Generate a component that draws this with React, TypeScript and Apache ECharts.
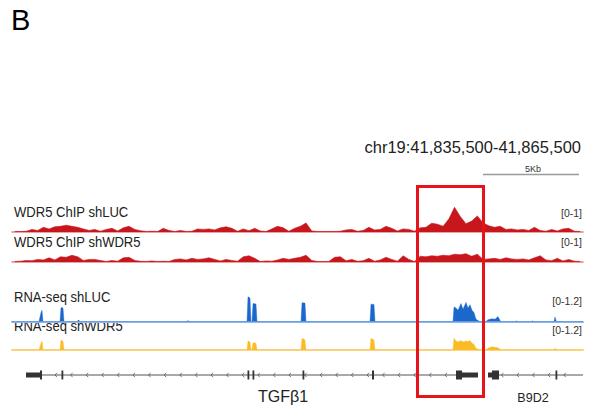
import React, { useEffect, useRef } from "react";
import * as echarts from "echarts";

// ---------------- data ----------------
const PANEL_LETTER = "B";
const REGION_LABEL = "chr19:41,835,500-41,865,500";
const SCALE_LABEL = "5Kb";
const REGION_LENGTH = 30000; // bp shown
const BIN_SIZE = 300; // bp per ChIP coverage bin

const trackNames = ["WDR5 ChIP shLUC", "WDR5 ChIP shWDR5", "RNA-seq shLUC", "RNA-seq shWDR5"];
const trackRanges = ["[0-1]", "[0-1]", "[0-1.2]", "[0-1.2]"];
const trackMax = [1, 1, 1.2, 1.2];

const chipShLUC = [
  0.02, 0.02, 0.03, 0.10, 0.06, 0.18, 0.12, 0.20, 0.22, 0.26,
  0.22, 0.18, 0.12, 0.06, 0.10, 0.03, 0.10, 0.14, 0.04, 0.16,
  0.22, 0.10, 0.05, 0.02, 0.03, 0.02, 0.14, 0.06, 0.02, 0.06,
  0.02, 0.03, 0.12, 0.10, 0.12, 0.08, 0.16, 0.20, 0.14, 0.03,
  0.12, 0.05, 0.14, 0.04, 0.02, 0.12, 0.22, 0.16, 0.03, 0.14,
  0.22, 0.35, 0.04, 0.02, 0.02, 0.02, 0.02, 0.03, 0.08, 0.10,
  0.03, 0.06, 0.18, 0.08, 0.10, 0.22, 0.14, 0.04, 0.12, 0.10,
  0.03, 0.16, 0.18, 0.34, 0.30, 0.22, 0.50, 0.95, 0.60, 0.32,
  0.42, 0.62, 0.35, 0.24, 0.18, 0.22, 0.10, 0.12, 0.08, 0.10,
  0.06, 0.18, 0.06, 0.03, 0.10, 0.04, 0.12, 0.14, 0.03, 0.02,
];

const chipShWDR5 = [
  0.02, 0.03, 0.06, 0.05, 0.10, 0.08, 0.16, 0.08, 0.20, 0.18,
  0.26, 0.20, 0.06, 0.10, 0.10, 0.06, 0.02, 0.06, 0.03, 0.16,
  0.18, 0.06, 0.03, 0.02, 0.04, 0.02, 0.03, 0.02, 0.10, 0.12,
  0.08, 0.14, 0.10, 0.12, 0.16, 0.10, 0.04, 0.10, 0.06, 0.03,
  0.20, 0.24, 0.14, 0.02, 0.04, 0.03, 0.08, 0.14, 0.10, 0.14,
  0.18, 0.26, 0.06, 0.02, 0.02, 0.02, 0.18, 0.20, 0.05, 0.10,
  0.03, 0.05, 0.14, 0.03, 0.08, 0.18, 0.10, 0.03, 0.24, 0.10,
  0.02, 0.22, 0.20, 0.24, 0.22, 0.26, 0.24, 0.30, 0.28, 0.32,
  0.22, 0.30, 0.10, 0.12, 0.14, 0.10, 0.16, 0.12, 0.10, 0.12,
  0.08, 0.16, 0.24, 0.08, 0.05, 0.14, 0.04, 0.10, 0.03, 0.02,
];

// [bp from region start, coverage]
const rnaShLUC: [number, number][] = [
  [0, 0], [1419, 0], [1471, 0.2], [1524, 0.4], [1576, 0.5], [1629, 0],
  [2522, 0], [2574, 0.62], [2680, 0.6], [2732, 0],
  [9195, 0], [9247, 0.05], [9300, 0],
  [12347, 0], [12399, 1.1], [12504, 1.05], [12557, 0], [12610, 0], [12662, 0.8], [12820, 0.78], [12872, 0],
  [15184, 0], [15237, 0.83], [15394, 0.82], [15447, 0],
  [18809, 0], [18861, 0.77], [19019, 0.76], [19072, 0],
  [23170, 0], [23223, 0.65], [23328, 0.6], [23433, 0.5], [23590, 0.8], [23695, 0.55], [23853, 0.85],
  [23958, 0.6], [24063, 0.75], [24168, 0.5], [24273, 0.4], [24378, 0.1], [24484, 0.04], [24589, 0],
  [24904, 0], [25009, 0.08], [25219, 0.12], [25377, 0.1], [25534, 0.22], [25640, 0.05], [25692, 0],
  [26450, 0], [26500, 0.03], [26550, 0], [27300, 0], [27350, 0.03], [27400, 0],
  [28477, 0], [28529, 0.2], [28582, 0.05], [28634, 0],
  [30000, 0],
];

const rnaShWDR5: [number, number][] = [
  [0, 0], [1419, 0], [1471, 0.15], [1524, 0.3], [1576, 0.4], [1629, 0],
  [2522, 0], [2574, 0.44], [2680, 0.38], [2732, 0],
  [12347, 0], [12399, 0.4], [12504, 0.36], [12557, 0], [12610, 0], [12662, 0.32], [12820, 0.3], [12872, 0],
  [15184, 0], [15237, 0.52], [15394, 0.45], [15447, 0],
  [18809, 0], [18861, 0.52], [19019, 0.45], [19072, 0],
  [23170, 0], [23223, 0.52], [23328, 0.4], [23433, 0.36], [23590, 0.42], [23695, 0.36], [23853, 0.4],
  [23958, 0.38], [24063, 0.42], [24168, 0.3], [24273, 0.25], [24378, 0.08], [24484, 0.03], [24589, 0],
  [24904, 0], [25009, 0.08], [25219, 0.14], [25377, 0.12], [25534, 0.1], [25640, 0.03], [25692, 0],
  [28477, 0], [28529, 0.08], [28582, 0.03], [28634, 0],
  [30000, 0],
];

// genes: bp from region start
const geneNames = ["TGFβ1", "B9D2"];
const geneStarts = [736, 25009];
const geneEnds = [24484, 30000];
const geneLabelPos = [14238, 27373];
// [start, end, coding(1) / utr(0)]
const tgfb1Exons: [number, number, number][] = [
  [736, 1471, 0], [1471, 1576, 1], [2600, 2680, 1], [12373, 12452, 1], [12636, 12715, 1],
  [15263, 15342, 1], [18914, 19019, 1], [23328, 23643, 1], [23643, 24484, 0],
];
const b9d2Exons: [number, number, number][] = [
  [25009, 25219, 0], [25219, 25587, 1], [28556, 28634, 1],
];

// ---------------- styling ----------------
const FONT = "'Liberation Sans', Arial, Helvetica, sans-serif";
const RED = "#c8161d";
const BLUE = "#1a68cc";
const YELLOW = "#fbbb26";
const GENE = "#333333";
const trackColors = [RED, RED, BLUE, YELLOW];
const baseColors = ["#e38383", "#e38383", "#8db6ea", "#fdd585"];
const baseWidths = [1.5, 1.5, 2, 2];
const gridTops = [206, 236, 294.5, 323, 365];
const gridHeights = [26, 26, 27, 27, 20];
const labelY = [212, 242.5, 297.5, 326.5];
const rangeY = [212.5, 241.5, 301, 330];

export default function App() {
  const ref = useRef<HTMLDivElement>(null);

  useEffect(() => {
    if (!ref.current) return;
    const chart = echarts.init(ref.current, undefined, { renderer: "svg" });

    const grids = gridTops.map((t, i) => ({ left: 12, width: 571, top: t, height: gridHeights[i] }));
    const xAxes = gridTops.map((_, i) => ({
      type: "value",
      gridIndex: i,
      min: 0,
      max: REGION_LENGTH,
      axisLine: i < 4 ? { show: true, onZero: false, lineStyle: { color: baseColors[i], width: baseWidths[i] } } : { show: false },
      axisTick: { show: false },
      axisLabel: { show: false },
      splitLine: { show: false },
    }));
    const yAxes = gridTops.map((_, i) => ({
      type: "value",
      gridIndex: i,
      min: 0,
      max: i < 4 ? trackMax[i] : 1,
      show: false,
    }));

    const coverage = [
      chipShLUC.map((v, k) => [k * BIN_SIZE + BIN_SIZE / 2, v]),
      chipShWDR5.map((v, k) => [k * BIN_SIZE + BIN_SIZE / 2, v]),
      rnaShLUC,
      rnaShWDR5,
    ];

    const coverageSeries = coverage.map((d, i) => ({
      type: "line",
      xAxisIndex: i,
      yAxisIndex: i,
      data: d,
      showSymbol: false,
      silent: true,
      lineStyle: { width: i < 2 ? 0.6 : 0.4, color: trackColors[i] },
      areaStyle: { color: trackColors[i], opacity: 1 },
      z: 3,
    }));

    const allExons = [...tgfb1Exons, ...b9d2Exons];

    const geneSpanSeries = {
      type: "custom",
      xAxisIndex: 4,
      yAxisIndex: 4,
      clip: false,
      silent: true,
      encode: { x: [0, 1] },
      data: geneStarts.map((s, i) => [s, geneEnds[i], geneLabelPos[i]]),
      renderItem: (params: any, api: any) => {
        const s = api.coord([api.value(0), 0.5]);
        const e = api.coord([api.value(1), 0.5]);
        const lab = api.coord([api.value(2), 0.5]);
        const y = s[1];
        const children: any[] = [
          { type: "line", shape: { x1: s[0], y1: y, x2: e[0], y2: y }, style: { stroke: "#555", lineWidth: 1 } },
        ];
        for (let x = s[0] + 14; x < e[0] - 3; x += 15.6) {
          children.push({
            type: "polyline",
            shape: { points: [[x + 1.4, y - 2.2], [x - 0.6, y], [x + 1.4, y + 2.2]] },
            style: { stroke: "#555", lineWidth: 0.8, fill: null },
          });
        }
        const idx = params.dataIndex;
        children.push({
          type: "text",
          x: lab[0],
          y: y + (idx === 0 ? 21.5 : 23),
          style: {
            text: geneNames[idx],
            fontSize: idx === 0 ? 16 : 12.5,
            fontFamily: FONT,
            fill: "#222",
            textAlign: "center",
            textVerticalAlign: "middle",
          },
        });
        return { type: "group", children };
      },
      z: 3,
    };

    const exonSeries = {
      type: "custom",
      xAxisIndex: 4,
      yAxisIndex: 4,
      clip: false,
      silent: true,
      encode: { x: [0, 1] },
      data: allExons,
      renderItem: (params: any, api: any) => {
        const s = api.coord([api.value(0), 0.5]);
        const e = api.coord([api.value(1), 0.5]);
        const h = api.value(2) === 1 ? 9 : 5;
        const w = Math.max(e[0] - s[0], 1.8);
        return {
          type: "rect",
          shape: { x: s[0], y: s[1] - h / 2, width: w, height: h },
          style: { fill: GENE },
        };
      },
      z: 4,
    };

    const textStyle = (t: string, size: number, align: string, fill = "#222") => ({
      text: t,
      fontSize: size,
      fontFamily: FONT,
      fill,
      textAlign: align,
      textVerticalAlign: "middle",
    });

    const graphics: any[] = [
      { type: "text", x: 11, y: 19.5, style: textStyle(PANEL_LETTER, 29, "left", "#000") },
      { type: "text", x: 581, y: 146.5, style: textStyle(REGION_LABEL, 16.5, "right", "#222") },
      { type: "text", x: 533, y: 169, style: textStyle(SCALE_LABEL, 9, "center", "#333") },
      { type: "line", shape: { x1: 483, y1: 174.5, x2: 579, y2: 174.5 }, style: { stroke: "#9a9a9a", lineWidth: 1.5 } },
      ...trackNames.map((n, i) => ({
        type: "text",
        x: 14,
        y: labelY[i],
        scaleX: 0.9,
        style: textStyle(n, 14.5, "left", "#222"),
      })),
      ...trackRanges.map((r, i) => ({ type: "text", x: 582, y: rangeY[i], style: textStyle(r, 10.5, "right", "#333") })),
      {
        type: "rect",
        shape: { x: 417.5, y: 186.5, width: 66, height: 210 },
        style: { fill: "none", stroke: "#e8121a", lineWidth: 3 },
        z: 100,
      },
    ];

    chart.setOption({
      animation: false,
      backgroundColor: "#ffffff",
      grid: grids,
      xAxis: xAxes,
      yAxis: yAxes,
      series: [...coverageSeries, geneSpanSeries, exonSeries],
      graphic: { elements: graphics },
    } as any);

    return () => chart.dispose();
  }, []);

  return (
    <div
      ref={ref}
      style={{ position: "fixed", left: 0, top: 0, width: 600, height: 416, background: "#fff" }}
    />
  );
}
